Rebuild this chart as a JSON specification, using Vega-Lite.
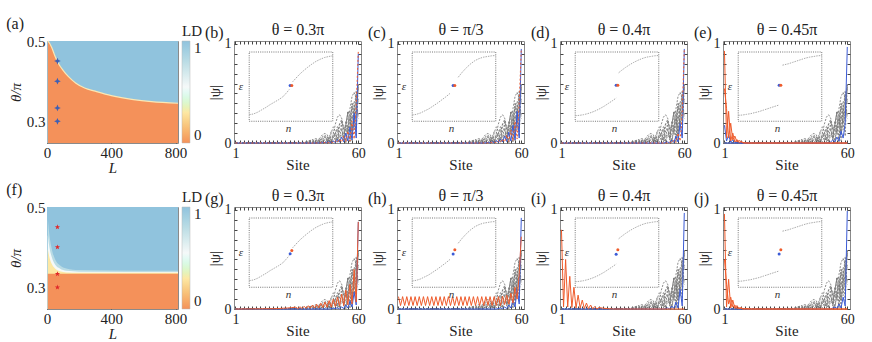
{
"$schema": "https://vega.github.io/schema/vega-lite/v6.json",
"padding": {"left": 5, "top": 15, "right": 2, "bottom": 2},
"datasets": {
"gray": [
{"c":1,"s":60,"v":0.27},{"c":1,"s":59,"v":0.447},{"c":1,"s":58,"v":0.512},{"c":1,"s":57,"v":0.47},{"c":1,"s":56,"v":0.346},{"c":1,"s":55,"v":0.174},{"c":1,"s":54,"v":0.003},{"c":1,"s":53,"v":0.153},{"c":1,"s":52,"v":0.251},{"c":1,"s":51,"v":0.286},{"c":1,"s":50,"v":0.262},{"c":1,"s":49,"v":0.192},{"c":1,"s":48,"v":0.095},{"c":1,"s":47,"v":0.004},{"c":1,"s":46,"v":0.05},{"c":1,"s":45,"v":0.085},{"c":1,"s":44,"v":0.096},{"c":1,"s":43,"v":0.088},{"c":1,"s":42,"v":0.064},{"c":1,"s":41,"v":0.03},{"c":1,"s":40,"v":0.002},{"c":1,"s":39,"v":0.025},{"c":1,"s":38,"v":0.035},{"c":1,"s":34,"v":0.004},{"c":1,"s":1,"v":0},
{"c":2,"s":60,"v":0.43},{"c":2,"s":59,"v":0.529},{"c":2,"s":58,"v":0.316},{"c":2,"s":57,"v":0.024},{"c":2,"s":56,"v":0.276},{"c":2,"s":55,"v":0.32},{"c":2,"s":54,"v":0.179},{"c":2,"s":53,"v":0.029},{"c":2,"s":52,"v":0.175},{"c":2,"s":51,"v":0.193},{"c":2,"s":50,"v":0.101},{"c":2,"s":49,"v":0.026},{"c":2,"s":48,"v":0.111},{"c":2,"s":47,"v":0.116},{"c":2,"s":46,"v":0.056},{"c":2,"s":45,"v":0.021},{"c":2,"s":44,"v":0.07},{"c":2,"s":43,"v":0.069},{"c":2,"s":42,"v":0.031},{"c":2,"s":41,"v":0.016},{"c":2,"s":40,"v":0.044},{"c":2,"s":39,"v":0.041},{"c":2,"s":38,"v":0.017},{"c":2,"s":34,"v":0.005},{"c":2,"s":1,"v":0},
{"c":3,"s":60,"v":0.566},{"c":3,"s":59,"v":0.391},{"c":3,"s":58,"v":0.135},{"c":3,"s":57,"v":0.374},{"c":3,"s":56,"v":0.162},{"c":3,"s":55,"v":0.156},{"c":3,"s":54,"v":0.223},{"c":3,"s":53,"v":0.043},{"c":3,"s":52,"v":0.131},{"c":3,"s":51,"v":0.121},{"c":3,"s":50,"v":0.008},{"c":3,"s":49,"v":0.093},{"c":3,"s":48,"v":0.059},{"c":3,"s":47,"v":0.027},{"c":3,"s":46,"v":0.06},{"c":3,"s":45,"v":0.022},{"c":3,"s":44,"v":0.027},{"c":3,"s":43,"v":0.035},{"c":3,"s":42,"v":0.005},{"c":3,"s":41,"v":0.022},{"c":3,"s":40,"v":0.018},{"c":3,"s":39,"v":0.002},{"c":3,"s":38,"v":0.016},{"c":3,"s":34,"v":0.003},{"c":3,"s":1,"v":0},
{"c":4,"s":60,"v":0.597},{"c":4,"s":59,"v":0.069},{"c":4,"s":58,"v":0.392},{"c":4,"s":57,"v":0.092},{"c":4,"s":56,"v":0.252},{"c":4,"s":55,"v":0.091},{"c":4,"s":54,"v":0.158},{"c":4,"s":53,"v":0.079},{"c":4,"s":52,"v":0.097},{"c":4,"s":51,"v":0.064},{"c":4,"s":50,"v":0.057},{"c":4,"s":49,"v":0.05},{"c":4,"s":48,"v":0.033},{"c":4,"s":47,"v":0.037},{"c":4,"s":46,"v":0.018},{"c":4,"s":45,"v":0.027},{"c":4,"s":44,"v":0.009},{"c":4,"s":43,"v":0.019},{"c":4,"s":42,"v":0.004},{"c":4,"s":41,"v":0.013},{"c":4,"s":40,"v":0.001},{"c":4,"s":39,"v":0.009},{"c":4,"s":38,"v":0.005},{"c":4,"s":34,"v":0.002},{"c":4,"s":1,"v":0},
{"c":5,"s":60,"v":0.568},{"c":5,"s":59,"v":0.286},{"c":5,"s":58,"v":0.201},{"c":5,"s":57,"v":0.274},{"c":5,"s":56,"v":0.017},{"c":5,"s":55,"v":0.159},{"c":5,"s":54,"v":0.089},{"c":5,"s":53,"v":0.051},{"c":5,"s":52,"v":0.08},{"c":5,"s":51,"v":0.009},{"c":5,"s":50,"v":0.043},{"c":5,"s":49,"v":0.028},{"c":5,"s":48,"v":0.013},{"c":5,"s":47,"v":0.023},{"c":5,"s":46,"v":0.004},{"c":5,"s":45,"v":0.012},{"c":5,"s":44,"v":0.006},{"c":5,"s":43,"v":0.003},{"c":5,"s":42,"v":0.005},{"c":5,"s":41,"v":0.001},{"c":5,"s":40,"v":0.003},{"c":5,"s":38,"v":0.001},{"c":5,"s":1,"v":0},
{"c":6,"s":60,"v":0.41},{"c":6,"s":59,"v":0.494},{"c":6,"s":58,"v":0.26},{"c":6,"s":57,"v":0.091},{"c":6,"s":56,"v":0.322},{"c":6,"s":55,"v":0.314},{"c":6,"s":54,"v":0.115},{"c":6,"s":53,"v":0.12},{"c":6,"s":52,"v":0.237},{"c":6,"s":51,"v":0.19},{"c":6,"s":50,"v":0.024},{"c":6,"s":49,"v":0.115},{"c":6,"s":48,"v":0.164},{"c":6,"s":47,"v":0.105},{"c":6,"s":46,"v":0.008},{"c":6,"s":45,"v":0.07},{"c":6,"s":44,"v":0.075},{"c":6,"s":43,"v":0.04},{"c":6,"s":42,"v":0.01},{"c":6,"s":41,"v":0.04},{"c":6,"s":40,"v":0.035},{"c":6,"s":39,"v":0.012},{"c":6,"s":38,"v":0.008},{"c":6,"s":34,"v":0.003},{"c":6,"s":1,"v":0},
{"c":7,"s":60,"v":0.248},{"c":7,"s":59,"v":0.388},{"c":7,"s":58,"v":0.422},{"c":7,"s":57,"v":0.37},{"c":7,"s":56,"v":0.263},{"c":7,"s":55,"v":0.134},{"c":7,"s":54,"v":0.01},{"c":7,"s":53,"v":0.088},{"c":7,"s":52,"v":0.133},{"c":7,"s":51,"v":0.154},{"c":7,"s":50,"v":0.136},{"c":7,"s":49,"v":0.101},{"c":7,"s":48,"v":0.054},{"c":7,"s":47,"v":0.005},{"c":7,"s":46,"v":0.027},{"c":7,"s":45,"v":0.047},{"c":7,"s":44,"v":0.055},{"c":7,"s":43,"v":0.05},{"c":7,"s":42,"v":0.038},{"c":7,"s":41,"v":0.021},{"c":7,"s":40,"v":0.004},{"c":7,"s":39,"v":0.015},{"c":7,"s":38,"v":0.029},{"c":7,"s":34,"v":0.006},{"c":7,"s":1,"v":0},
{"c":8,"s":60,"v":0.588},{"c":8,"s":59,"v":0.327},{"c":8,"s":58,"v":0.276},{"c":8,"s":57,"v":0.409},{"c":8,"s":56,"v":0.012},{"c":8,"s":55,"v":0.311},{"c":8,"s":54,"v":0.183},{"c":8,"s":53,"v":0.141},{"c":8,"s":52,"v":0.221},{"c":8,"s":51,"v":0.013},{"c":8,"s":50,"v":0.165},{"c":8,"s":49,"v":0.102},{"c":8,"s":48,"v":0.071},{"c":8,"s":47,"v":0.072},{"c":8,"s":46,"v":0.007},{"c":8,"s":45,"v":0.052},{"c":8,"s":44,"v":0.034},{"c":8,"s":43,"v":0.022},{"c":8,"s":42,"v":0.038},{"c":8,"s":41,"v":0.004},{"c":8,"s":40,"v":0.027},{"c":8,"s":39,"v":0.019},{"c":8,"s":38,"v":0.011},{"c":8,"s":34,"v":0.003},{"c":8,"s":1,"v":0}
],
"psi": [
{"p":"b","k":"b","s":1,"v":0},{"p":"b","k":"b","s":40,"v":0},{"p":"b","k":"b","s":44,"v":0.005},{"p":"b","k":"b","s":46,"v":0.01},{"p":"b","k":"b","s":47,"v":0.003},{"p":"b","k":"b","s":48,"v":0.02},{"p":"b","k":"b","s":49,"v":0.005},{"p":"b","k":"b","s":50,"v":0.035},{"p":"b","k":"b","s":51,"v":0.008},{"p":"b","k":"b","s":52,"v":0.06},{"p":"b","k":"b","s":53,"v":0.012},{"p":"b","k":"b","s":54,"v":0.1},{"p":"b","k":"b","s":55,"v":0.02},{"p":"b","k":"b","s":56,"v":0.16},{"p":"b","k":"b","s":57,"v":0.03},{"p":"b","k":"b","s":58,"v":0.3},{"p":"b","k":"b","s":59,"v":0.05},{"p":"b","k":"b","s":60,"v":0.9},
{"p":"b","k":"r","s":1,"v":0},{"p":"b","k":"r","s":40,"v":0},{"p":"b","k":"r","s":45,"v":0.005},{"p":"b","k":"r","s":46,"v":0.002},{"p":"b","k":"r","s":47,"v":0.01},{"p":"b","k":"r","s":48,"v":0.003},{"p":"b","k":"r","s":49,"v":0.02},{"p":"b","k":"r","s":50,"v":0.005},{"p":"b","k":"r","s":51,"v":0.04},{"p":"b","k":"r","s":52,"v":0.008},{"p":"b","k":"r","s":53,"v":0.07},{"p":"b","k":"r","s":54,"v":0.012},{"p":"b","k":"r","s":55,"v":0.12},{"p":"b","k":"r","s":56,"v":0.02},{"p":"b","k":"r","s":57,"v":0.22},{"p":"b","k":"r","s":58,"v":0.04},{"p":"b","k":"r","s":59,"v":0.38},{"p":"b","k":"r","s":60,"v":0.92},
{"p":"c","k":"b","s":1,"v":0},{"p":"c","k":"b","s":42,"v":0},{"p":"c","k":"b","s":44,"v":0.005},{"p":"c","k":"b","s":45,"v":0.002},{"p":"c","k":"b","s":46,"v":0.012},{"p":"c","k":"b","s":47,"v":0.003},{"p":"c","k":"b","s":48,"v":0.025},{"p":"c","k":"b","s":49,"v":0.006},{"p":"c","k":"b","s":50,"v":0.04},{"p":"c","k":"b","s":51,"v":0.01},{"p":"c","k":"b","s":52,"v":0.07},{"p":"c","k":"b","s":53,"v":0.015},{"p":"c","k":"b","s":54,"v":0.11},{"p":"c","k":"b","s":55,"v":0.02},{"p":"c","k":"b","s":56,"v":0.18},{"p":"c","k":"b","s":57,"v":0.03},{"p":"c","k":"b","s":58,"v":0.32},{"p":"c","k":"b","s":59,"v":0.05},{"p":"c","k":"b","s":60,"v":0.95},
{"p":"c","k":"r","s":1,"v":0},{"p":"c","k":"r","s":44,"v":0},{"p":"c","k":"r","s":47,"v":0.01},{"p":"c","k":"r","s":48,"v":0.003},{"p":"c","k":"r","s":49,"v":0.02},{"p":"c","k":"r","s":50,"v":0.005},{"p":"c","k":"r","s":51,"v":0.04},{"p":"c","k":"r","s":52,"v":0.01},{"p":"c","k":"r","s":53,"v":0.08},{"p":"c","k":"r","s":54,"v":0.015},{"p":"c","k":"r","s":55,"v":0.13},{"p":"c","k":"r","s":56,"v":0.02},{"p":"c","k":"r","s":57,"v":0.22},{"p":"c","k":"r","s":58,"v":0.04},{"p":"c","k":"r","s":59,"v":0.4},{"p":"c","k":"r","s":60,"v":0.95},
{"p":"d","k":"b","s":1,"v":0},{"p":"d","k":"b","s":50,"v":0},{"p":"d","k":"b","s":52,"v":0.01},{"p":"d","k":"b","s":53,"v":0.002},{"p":"d","k":"b","s":54,"v":0.03},{"p":"d","k":"b","s":55,"v":0.005},{"p":"d","k":"b","s":56,"v":0.07},{"p":"d","k":"b","s":57,"v":0.01},{"p":"d","k":"b","s":58,"v":0.2},{"p":"d","k":"b","s":59,"v":0.05},{"p":"d","k":"b","s":60,"v":0.95},
{"p":"d","k":"r","s":1,"v":0},{"p":"d","k":"r","s":52,"v":0},{"p":"d","k":"r","s":53,"v":0.01},{"p":"d","k":"r","s":54,"v":0.002},{"p":"d","k":"r","s":55,"v":0.03},{"p":"d","k":"r","s":56,"v":0.005},{"p":"d","k":"r","s":57,"v":0.1},{"p":"d","k":"r","s":58,"v":0.02},{"p":"d","k":"r","s":59,"v":0.3},{"p":"d","k":"r","s":60,"v":0.95},
{"p":"e","k":"r","s":1,"v":0.93},{"p":"e","k":"r","s":2,"v":0.05},{"p":"e","k":"r","s":3,"v":0.32},{"p":"e","k":"r","s":4,"v":0.02},{"p":"e","k":"r","s":5,"v":0.1},{"p":"e","k":"r","s":6,"v":0.01},{"p":"e","k":"r","s":7,"v":0.035},{"p":"e","k":"r","s":8,"v":0.005},{"p":"e","k":"r","s":9,"v":0.012},{"p":"e","k":"r","s":10,"v":0},{"p":"e","k":"r","s":60,"v":0},
{"p":"e","k":"r2","s":1,"v":0.55},{"p":"e","k":"r2","s":2,"v":0.35},{"p":"e","k":"r2","s":3,"v":0.05},{"p":"e","k":"r2","s":4,"v":0.2},{"p":"e","k":"r2","s":5,"v":0.03},{"p":"e","k":"r2","s":6,"v":0.07},{"p":"e","k":"r2","s":7,"v":0.01},{"p":"e","k":"r2","s":8,"v":0.025},{"p":"e","k":"r2","s":10,"v":0.005},{"p":"e","k":"r2","s":12,"v":0},{"p":"e","k":"r2","s":60,"v":0},
{"p":"e","k":"b","s":1,"v":0},{"p":"e","k":"b","s":50,"v":0},{"p":"e","k":"b","s":52,"v":0.01},{"p":"e","k":"b","s":53,"v":0.03},{"p":"e","k":"b","s":54,"v":0.01},{"p":"e","k":"b","s":55,"v":0.06},{"p":"e","k":"b","s":56,"v":0.02},{"p":"e","k":"b","s":57,"v":0.12},{"p":"e","k":"b","s":58,"v":0.05},{"p":"e","k":"b","s":59,"v":0.2},{"p":"e","k":"b","s":60,"v":0.97},
{"p":"e","k":"b2","s":1,"v":0.18},{"p":"e","k":"b2","s":2,"v":0.02},{"p":"e","k":"b2","s":3,"v":0.08},{"p":"e","k":"b2","s":4,"v":0.01},{"p":"e","k":"b2","s":5,"v":0.03},{"p":"e","k":"b2","s":6,"v":0.005},{"p":"e","k":"b2","s":7,"v":0.01},{"p":"e","k":"b2","s":9,"v":0},{"p":"e","k":"b2","s":60,"v":0},
{"p":"g","k":"r","s":1,"v":0},{"p":"g","k":"r","s":20,"v":0.003},{"p":"g","k":"r","s":22,"v":0.005},{"p":"g","k":"r","s":24,"v":0.008},{"p":"g","k":"r","s":26,"v":0.01},{"p":"g","k":"r","s":28,"v":0.014},{"p":"g","k":"r","s":30,"v":0.018},{"p":"g","k":"r","s":31,"v":0.004},{"p":"g","k":"r","s":32,"v":0.022},{"p":"g","k":"r","s":33,"v":0.005},{"p":"g","k":"r","s":34,"v":0.027},{"p":"g","k":"r","s":35,"v":0.006},{"p":"g","k":"r","s":36,"v":0.033},{"p":"g","k":"r","s":37,"v":0.008},{"p":"g","k":"r","s":38,"v":0.04},{"p":"g","k":"r","s":39,"v":0.01},{"p":"g","k":"r","s":40,"v":0.048},{"p":"g","k":"r","s":41,"v":0.012},{"p":"g","k":"r","s":42,"v":0.058},{"p":"g","k":"r","s":43,"v":0.015},{"p":"g","k":"r","s":44,"v":0.07},{"p":"g","k":"r","s":45,"v":0.018},{"p":"g","k":"r","s":46,"v":0.085},{"p":"g","k":"r","s":47,"v":0.02},{"p":"g","k":"r","s":48,"v":0.1},{"p":"g","k":"r","s":49,"v":0.025},{"p":"g","k":"r","s":50,"v":0.12},{"p":"g","k":"r","s":51,"v":0.03},{"p":"g","k":"r","s":52,"v":0.15},{"p":"g","k":"r","s":53,"v":0.035},{"p":"g","k":"r","s":54,"v":0.19},{"p":"g","k":"r","s":55,"v":0.04},{"p":"g","k":"r","s":56,"v":0.25},{"p":"g","k":"r","s":57,"v":0.05},{"p":"g","k":"r","s":58,"v":0.4},{"p":"g","k":"r","s":59,"v":0.07},{"p":"g","k":"r","s":60,"v":0.88},
{"p":"g","k":"b","s":1,"v":0},{"p":"g","k":"b","s":46,"v":0},{"p":"g","k":"b","s":48,"v":0.005},{"p":"g","k":"b","s":50,"v":0.01},{"p":"g","k":"b","s":51,"v":0.003},{"p":"g","k":"b","s":52,"v":0.02},{"p":"g","k":"b","s":53,"v":0.005},{"p":"g","k":"b","s":54,"v":0.04},{"p":"g","k":"b","s":55,"v":0.01},{"p":"g","k":"b","s":56,"v":0.08},{"p":"g","k":"b","s":57,"v":0.02},{"p":"g","k":"b","s":58,"v":0.17},{"p":"g","k":"b","s":59,"v":0.04},{"p":"g","k":"b","s":60,"v":0.88},
{"p":"h","k":"r","s":1,"v":0.125},{"p":"h","k":"r","s":2,"v":0.035},{"p":"h","k":"r","s":3,"v":0.125},{"p":"h","k":"r","s":4,"v":0.035},{"p":"h","k":"r","s":5,"v":0.125},{"p":"h","k":"r","s":6,"v":0.035},{"p":"h","k":"r","s":7,"v":0.125},{"p":"h","k":"r","s":8,"v":0.035},{"p":"h","k":"r","s":9,"v":0.125},{"p":"h","k":"r","s":10,"v":0.035},{"p":"h","k":"r","s":11,"v":0.125},{"p":"h","k":"r","s":12,"v":0.035},{"p":"h","k":"r","s":13,"v":0.125},{"p":"h","k":"r","s":14,"v":0.035},{"p":"h","k":"r","s":15,"v":0.125},{"p":"h","k":"r","s":16,"v":0.035},{"p":"h","k":"r","s":17,"v":0.125},{"p":"h","k":"r","s":18,"v":0.035},{"p":"h","k":"r","s":19,"v":0.125},{"p":"h","k":"r","s":20,"v":0.035},{"p":"h","k":"r","s":21,"v":0.125},{"p":"h","k":"r","s":22,"v":0.035},{"p":"h","k":"r","s":23,"v":0.125},{"p":"h","k":"r","s":24,"v":0.035},{"p":"h","k":"r","s":25,"v":0.125},{"p":"h","k":"r","s":26,"v":0.035},{"p":"h","k":"r","s":27,"v":0.125},{"p":"h","k":"r","s":28,"v":0.035},{"p":"h","k":"r","s":29,"v":0.125},{"p":"h","k":"r","s":30,"v":0.035},{"p":"h","k":"r","s":31,"v":0.125},{"p":"h","k":"r","s":32,"v":0.035},{"p":"h","k":"r","s":33,"v":0.125},{"p":"h","k":"r","s":34,"v":0.035},{"p":"h","k":"r","s":35,"v":0.125},{"p":"h","k":"r","s":36,"v":0.035},{"p":"h","k":"r","s":37,"v":0.125},{"p":"h","k":"r","s":38,"v":0.035},{"p":"h","k":"r","s":39,"v":0.125},{"p":"h","k":"r","s":40,"v":0.035},{"p":"h","k":"r","s":41,"v":0.125},{"p":"h","k":"r","s":42,"v":0.035},{"p":"h","k":"r","s":43,"v":0.125},{"p":"h","k":"r","s":44,"v":0.035},{"p":"h","k":"r","s":45,"v":0.125},{"p":"h","k":"r","s":46,"v":0.035},{"p":"h","k":"r","s":47,"v":0.125},{"p":"h","k":"r","s":48,"v":0.035},{"p":"h","k":"r","s":49,"v":0.125},{"p":"h","k":"r","s":50,"v":0.035},{"p":"h","k":"r","s":51,"v":0.13},{"p":"h","k":"r","s":52,"v":0.045},{"p":"h","k":"r","s":53,"v":0.14},{"p":"h","k":"r","s":54,"v":0.05},{"p":"h","k":"r","s":55,"v":0.16},{"p":"h","k":"r","s":56,"v":0.06},{"p":"h","k":"r","s":57,"v":0.22},{"p":"h","k":"r","s":58,"v":0.1},{"p":"h","k":"r","s":59,"v":0.35},{"p":"h","k":"r","s":60,"v":0.73},
{"p":"h","k":"b","s":1,"v":0},{"p":"h","k":"b","s":48,"v":0},{"p":"h","k":"b","s":50,"v":0.01},{"p":"h","k":"b","s":51,"v":0.003},{"p":"h","k":"b","s":52,"v":0.02},{"p":"h","k":"b","s":53,"v":0.005},{"p":"h","k":"b","s":54,"v":0.04},{"p":"h","k":"b","s":55,"v":0.01},{"p":"h","k":"b","s":56,"v":0.09},{"p":"h","k":"b","s":57,"v":0.02},{"p":"h","k":"b","s":58,"v":0.2},{"p":"h","k":"b","s":59,"v":0.05},{"p":"h","k":"b","s":60,"v":0.92},
{"p":"i","k":"r","s":1,"v":0.8},{"p":"i","k":"r","s":2,"v":0.02},{"p":"i","k":"r","s":3,"v":0.5},{"p":"i","k":"r","s":4,"v":0.02},{"p":"i","k":"r","s":5,"v":0.33},{"p":"i","k":"r","s":6,"v":0.015},{"p":"i","k":"r","s":7,"v":0.22},{"p":"i","k":"r","s":8,"v":0.01},{"p":"i","k":"r","s":9,"v":0.14},{"p":"i","k":"r","s":10,"v":0.01},{"p":"i","k":"r","s":11,"v":0.09},{"p":"i","k":"r","s":12,"v":0.005},{"p":"i","k":"r","s":13,"v":0.06},{"p":"i","k":"r","s":14,"v":0.003},{"p":"i","k":"r","s":15,"v":0.04},{"p":"i","k":"r","s":16,"v":0.002},{"p":"i","k":"r","s":17,"v":0.025},{"p":"i","k":"r","s":18,"v":0.001},{"p":"i","k":"r","s":19,"v":0.015},{"p":"i","k":"r","s":21,"v":0.008},{"p":"i","k":"r","s":23,"v":0.004},{"p":"i","k":"r","s":26,"v":0},{"p":"i","k":"r","s":60,"v":0},
{"p":"i","k":"b","s":1,"v":0},{"p":"i","k":"b","s":50,"v":0},{"p":"i","k":"b","s":52,"v":0.01},{"p":"i","k":"b","s":53,"v":0.002},{"p":"i","k":"b","s":54,"v":0.03},{"p":"i","k":"b","s":55,"v":0.005},{"p":"i","k":"b","s":56,"v":0.07},{"p":"i","k":"b","s":57,"v":0.01},{"p":"i","k":"b","s":58,"v":0.2},{"p":"i","k":"b","s":59,"v":0.03},{"p":"i","k":"b","s":60,"v":0.97},
{"p":"j","k":"r","s":1,"v":0.96},{"p":"j","k":"r","s":2,"v":0.02},{"p":"j","k":"r","s":3,"v":0.3},{"p":"j","k":"r","s":4,"v":0.01},{"p":"j","k":"r","s":5,"v":0.09},{"p":"j","k":"r","s":6,"v":0.005},{"p":"j","k":"r","s":7,"v":0.035},{"p":"j","k":"r","s":8,"v":0.003},{"p":"j","k":"r","s":9,"v":0.015},{"p":"j","k":"r","s":10,"v":0.001},{"p":"j","k":"r","s":11,"v":0.005},{"p":"j","k":"r","s":14,"v":0},{"p":"j","k":"r","s":60,"v":0},
{"p":"j","k":"r2","s":1,"v":0.5},{"p":"j","k":"r2","s":2,"v":0.25},{"p":"j","k":"r2","s":3,"v":0.05},{"p":"j","k":"r2","s":4,"v":0.12},{"p":"j","k":"r2","s":5,"v":0.02},{"p":"j","k":"r2","s":6,"v":0.04},{"p":"j","k":"r2","s":7,"v":0.005},{"p":"j","k":"r2","s":8,"v":0.012},{"p":"j","k":"r2","s":10,"v":0},{"p":"j","k":"r2","s":60,"v":0},
{"p":"j","k":"b","s":1,"v":0},{"p":"j","k":"b","s":52,"v":0},{"p":"j","k":"b","s":54,"v":0.02},{"p":"j","k":"b","s":55,"v":0.005},{"p":"j","k":"b","s":56,"v":0.05},{"p":"j","k":"b","s":57,"v":0.01},{"p":"j","k":"b","s":58,"v":0.12},{"p":"j","k":"b","s":59,"v":0.03},{"p":"j","k":"b","s":60,"v":0.99}
],
"inset": [
{"t":1,"g":1,"n":0,"e":-0.81},{"t":1,"g":1,"n":0.05,"e":-0.79},{"t":1,"g":1,"n":0.1,"e":-0.74},{"t":1,"g":1,"n":0.15,"e":-0.67},{"t":1,"g":1,"n":0.2,"e":-0.6},{"t":1,"g":1,"n":0.25,"e":-0.52},{"t":1,"g":1,"n":0.3,"e":-0.45},{"t":1,"g":1,"n":0.35,"e":-0.38},{"t":1,"g":1,"n":0.4,"e":-0.3},{"t":1,"g":1,"n":0.45,"e":-0.17},{"t":1,"g":1,"n":0.48,"e":-0.08},
{"t":1,"g":2,"n":0.52,"e":0.14},{"t":1,"g":2,"n":0.55,"e":0.22},{"t":1,"g":2,"n":0.6,"e":0.35},{"t":1,"g":2,"n":0.65,"e":0.46},{"t":1,"g":2,"n":0.7,"e":0.56},{"t":1,"g":2,"n":0.75,"e":0.65},{"t":1,"g":2,"n":0.8,"e":0.73},{"t":1,"g":2,"n":0.85,"e":0.79},{"t":1,"g":2,"n":0.9,"e":0.84},{"t":1,"g":2,"n":0.95,"e":0.87},{"t":1,"g":2,"n":1,"e":0.89},
{"t":2,"g":1,"n":0,"e":-0.82},{"t":2,"g":1,"n":0.05,"e":-0.8},{"t":2,"g":1,"n":0.1,"e":-0.76},{"t":2,"g":1,"n":0.15,"e":-0.7},{"t":2,"g":1,"n":0.2,"e":-0.64},{"t":2,"g":1,"n":0.25,"e":-0.56},{"t":2,"g":1,"n":0.3,"e":-0.48},{"t":2,"g":1,"n":0.35,"e":-0.39},{"t":2,"g":1,"n":0.4,"e":-0.3},{"t":2,"g":1,"n":0.46,"e":-0.18},
{"t":2,"g":2,"n":0.55,"e":0.27},{"t":2,"g":2,"n":0.6,"e":0.42},{"t":2,"g":2,"n":0.65,"e":0.55},{"t":2,"g":2,"n":0.7,"e":0.66},{"t":2,"g":2,"n":0.75,"e":0.75},{"t":2,"g":2,"n":0.8,"e":0.81},{"t":2,"g":2,"n":0.85,"e":0.85},{"t":2,"g":2,"n":0.9,"e":0.87},{"t":2,"g":2,"n":0.95,"e":0.89},{"t":2,"g":2,"n":1,"e":0.9},
{"t":3,"g":1,"n":0,"e":-0.84},{"t":3,"g":1,"n":0.05,"e":-0.83},{"t":3,"g":1,"n":0.1,"e":-0.81},{"t":3,"g":1,"n":0.15,"e":-0.78},{"t":3,"g":1,"n":0.2,"e":-0.74},{"t":3,"g":1,"n":0.25,"e":-0.69},{"t":3,"g":1,"n":0.3,"e":-0.63},{"t":3,"g":1,"n":0.35,"e":-0.56},{"t":3,"g":1,"n":0.4,"e":-0.48},{"t":3,"g":1,"n":0.45,"e":-0.4},{"t":3,"g":1,"n":0.49,"e":-0.33},
{"t":3,"g":2,"n":0.52,"e":0.4},{"t":3,"g":2,"n":0.55,"e":0.46},{"t":3,"g":2,"n":0.6,"e":0.55},{"t":3,"g":2,"n":0.65,"e":0.63},{"t":3,"g":2,"n":0.7,"e":0.7},{"t":3,"g":2,"n":0.75,"e":0.76},{"t":3,"g":2,"n":0.8,"e":0.81},{"t":3,"g":2,"n":0.85,"e":0.85},{"t":3,"g":2,"n":0.9,"e":0.87},{"t":3,"g":2,"n":0.95,"e":0.89},{"t":3,"g":2,"n":1,"e":0.9},
{"t":4,"g":1,"n":0,"e":-0.83},{"t":4,"g":1,"n":0.05,"e":-0.82},{"t":4,"g":1,"n":0.1,"e":-0.8},{"t":4,"g":1,"n":0.15,"e":-0.78},{"t":4,"g":1,"n":0.2,"e":-0.75},{"t":4,"g":1,"n":0.25,"e":-0.72},{"t":4,"g":1,"n":0.3,"e":-0.68},{"t":4,"g":1,"n":0.35,"e":-0.64},{"t":4,"g":1,"n":0.4,"e":-0.6},{"t":4,"g":1,"n":0.45,"e":-0.56},{"t":4,"g":1,"n":0.49,"e":-0.53},
{"t":4,"g":2,"n":0.53,"e":0.62},{"t":4,"g":2,"n":0.6,"e":0.66},{"t":4,"g":2,"n":0.65,"e":0.7},{"t":4,"g":2,"n":0.7,"e":0.74},{"t":4,"g":2,"n":0.75,"e":0.78},{"t":4,"g":2,"n":0.8,"e":0.82},{"t":4,"g":2,"n":0.85,"e":0.85},{"t":4,"g":2,"n":0.9,"e":0.87},{"t":4,"g":2,"n":0.95,"e":0.89},{"t":4,"g":2,"n":1,"e":0.9}
],
"inpt": [
{"p":"b","k":"b","n":0.49,"e":0.03},{"p":"b","k":"r","n":0.51,"e":0.03},
{"p":"c","k":"b","n":0.49,"e":0.035},{"p":"c","k":"r","n":0.51,"e":0.035},
{"p":"d","k":"b","n":0.49,"e":0.04},{"p":"d","k":"r","n":0.51,"e":0.04},
{"p":"e","k":"b","n":0.49,"e":0.04},{"p":"e","k":"r","n":0.51,"e":0.04},
{"p":"g","k":"b","n":0.49,"e":-0.03},{"p":"g","k":"r","n":0.51,"e":0.06},
{"p":"h","k":"b","n":0.49,"e":-0.04},{"p":"h","k":"r","n":0.51,"e":0.08},
{"p":"i","k":"b","n":0.49,"e":-0.05},{"p":"i","k":"r","n":0.51,"e":0.08},
{"p":"j","k":"b","n":0.49,"e":-0.04},{"p":"j","k":"r","n":0.51,"e":0.08}
],
"bndA": [
{"L":5,"th":0.5},{"L":15,"th":0.495},{"L":30,"th":0.483},{"L":50,"th":0.462},{"L":71,"th":0.444},{"L":100,"th":0.427},{"L":132,"th":0.412},{"L":180,"th":0.395},{"L":234,"th":0.383},{"L":300,"th":0.375},{"L":400,"th":0.364},{"L":538,"th":0.354},{"L":650,"th":0.349},{"L":815,"th":0.345}
],
"bndF": [
{"c":"lb","L":5,"th":0.47},{"c":"lb","L":15,"th":0.43},{"c":"lb","L":30,"th":0.395},{"c":"lb","L":50,"th":0.37},{"c":"lb","L":80,"th":0.355},{"c":"lb","L":120,"th":0.347},{"c":"lb","L":200,"th":0.343},{"c":"lb","L":400,"th":0.342},{"c":"lb","L":815,"th":0.341},
{"c":"w","L":5,"th":0.43},{"c":"w","L":15,"th":0.4},{"c":"w","L":30,"th":0.375},{"c":"w","L":50,"th":0.357},{"c":"w","L":80,"th":0.347},{"c":"w","L":120,"th":0.341},{"c":"w","L":200,"th":0.339},{"c":"w","L":815,"th":0.338},
{"c":"y","L":5,"th":0.395},{"c":"y","L":15,"th":0.375},{"c":"y","L":30,"th":0.358},{"c":"y","L":50,"th":0.347},{"c":"y","L":80,"th":0.34},{"c":"y","L":120,"th":0.337},{"c":"y","L":200,"th":0.336},{"c":"y","L":815,"th":0.336},
{"c":"o","L":5,"th":0.334},{"c":"o","L":815,"th":0.334}
],
"mk": [{"L":65,"th":0.45},{"L":65,"th":0.4},{"L":65,"th":0.3333},{"L":65,"th":0.3}]
},
"vconcat": [
{"hconcat": [
{"width": 131, "height": 102, "title": {"text": "(a)", "offset": 0, "dy": 8, "dx": -2},
 "layer": [
  {"data": {"values": [{}]}, "mark": {"type": "rect"},
   "encoding": {"x": {"datum": 0, "type": "quantitative", "scale": {"domain": [0, 815], "nice": false, "zero": false}, "axis": {"title": "L", "titleFontStyle": "italic", "values": [0, 200, 400, 600, 800], "format": "d", "labelFontSize": 15, "titleFontSize": 15, "tickSize": -2, "labelPadding": 4, "labelOverlap": false, "labelSeparation": -12, "labelBound": false, "titlePadding": 0}},
    "x2": {"datum": 815},
    "y": {"datum": 0.246, "type": "quantitative", "scale": {"domain": [0.246, 0.5], "nice": false, "zero": false}, "axis": {"title": "θ/π", "titleFontStyle": "italic", "values": [0.3, 0.5], "format": ".1f", "labelFontSize": 15, "titleFontSize": 15, "tickSize": -2, "labelPadding": 4, "titlePadding": 3}},
    "y2": {"datum": 0.5},
    "color": {"datum": 1, "type": "quantitative", "scale": {"domain": [0, 0.3, 0.55, 1], "range": ["#f4915a", "#fde8a4", "#f5f9f9", "#90c3dd"]}, "legend": {"type": "gradient", "direction": "vertical", "orient": "none", "legendX": 135, "legendY": -17, "title": "LD", "values": [0, 1], "format": "d", "gradientLength": 102, "gradientThickness": 8, "labelFontSize": 15, "titleFontSize": 15, "titleFontWeight": "normal", "gradientStrokeColor": "#bbb", "gradientStrokeWidth": 0.5, "titlePadding": 2, "labelOffset": 4}}}},
  {"data": {"name": "bndA"}, "mark": {"type": "area", "interpolate": "monotone"},
   "encoding": {"x": {"field": "L", "type": "quantitative", "scale": {"domain": [0, 815], "nice": false, "zero": false}, "axis": {"title": "L", "titleFontStyle": "italic", "values": [0, 200, 400, 600, 800], "format": "d", "labelFontSize": 15, "titleFontSize": 15, "tickSize": -2, "labelPadding": 4, "labelOverlap": false, "labelSeparation": -12, "labelBound": false, "titlePadding": 0}}, "y": {"field": "th", "type": "quantitative", "scale": {"domain": [0.246, 0.5], "nice": false, "zero": false}, "axis": {"title": "θ/π", "titleFontStyle": "italic", "values": [0.3, 0.5], "format": ".1f", "labelFontSize": 15, "titleFontSize": 15, "tickSize": -2, "labelPadding": 4, "titlePadding": 3}}, "y2": {"datum": 0.246}, "color": {"datum": 0, "type": "quantitative"}}},
  {"data": {"name": "bndA"}, "mark": {"type": "line", "interpolate": "monotone", "strokeWidth": 1.2, "color": "#fbe7b4"},
   "encoding": {"x": {"field": "L", "type": "quantitative"}, "y": {"field": "th", "type": "quantitative"}}},
  {"mark": {"type": "rule", "color": "#dddddd", "strokeWidth": 1}, "encoding": {"x": {"datum": 65, "type": "quantitative"}}},
  {"data": {"name": "mk"}, "mark": {"type": "point", "shape": "M0,-1L0.3,-0.3L1,0L0.3,0.3L0,1L-0.3,0.3L-1,0L-0.3,-0.3Z", "filled": true, "color": "#3d5fb5", "size": 45, "opacity": 1},
   "encoding": {"x": {"field": "L", "type": "quantitative"}, "y": {"field": "th", "type": "quantitative"}}},
  {"mark": {"type": "text", "text": "TDR", "fontSize": 14, "color": "#222"}, "encoding": {"x": {"datum": 407, "type": "quantitative"}, "y": {"datum": 0.422, "type": "quantitative"}}},
  {"mark": {"type": "text", "text": "NHDR", "fontSize": 14, "color": "#222"}, "encoding": {"x": {"datum": 393, "type": "quantitative"}, "y": {"datum": 0.299, "type": "quantitative"}}}
 ]},
{"width": 127, "height": 102, "title": {"text": "(b)", "offset": -19, "dx": -2},
 "layer": [
  {"layer": [
   {"data": {"name": "gray"}, "mark": {"type": "line", "color": "#767676", "strokeWidth": 0.85, "strokeDash": [2, 1.5]},
    "encoding": {"x": {"field": "s", "type": "quantitative", "scale": {"domain": [0.3, 61.3], "nice": false, "zero": false}, "axis": {"orient": "bottom", "values": [1,3,5,7,9,11,13,15,17,19,21,23,25,27,29,31,33,35,37,39,41,43,45,47,49,51,53,55,57,59,60], "format": "d", "labelExpr": "datum.value == 1 || datum.value == 60 ? datum.label : ''", "title": "Site", "titlePadding": -3}},
     "y": {"field": "v", "type": "quantitative", "scale": {"domain": [0, 1.03], "nice": false, "zero": false}, "axis": {"orient": "left", "values": [0,0.1,0.2,0.3,0.4,0.5,0.6,0.7,0.8,0.9,1], "format": "~g", "labelExpr": "datum.value == 0 || datum.value == 1 ? datum.label : ''", "title": "|ψ|"}},
     "detail": {"field": "c"}}},
   {"data": {"name": "psi"}, "transform": [{"filter": "datum.p == 'b' && (datum.k == 'b' || datum.k == 'b2')"}], "mark": {"type": "line", "color": "#3b5bd6", "strokeWidth": 1},
    "encoding": {"x": {"field": "s", "type": "quantitative", "scale": {"domain": [0.3, 61.3], "nice": false, "zero": false}, "axis": null}, "y": {"field": "v", "type": "quantitative", "scale": {"domain": [0, 1.03], "nice": false, "zero": false}, "axis": null}, "detail": {"field": "k"}}},
   {"data": {"name": "psi"}, "transform": [{"filter": "datum.p == 'b' && (datum.k == 'r' || datum.k == 'r2')"}], "mark": {"type": "line", "color": "#ef5b2b", "strokeWidth": 1, "strokeDash": [2, 2]},
    "encoding": {"x": {"field": "s", "type": "quantitative", "scale": {"domain": [0.3, 61.3], "nice": false, "zero": false}, "axis": {"orient": "top", "values": [1,3,5,7,9,11,13,15,17,19,21,23,25,27,29,31,33,35,37,39,41,43,45,47,49,51,53,55,57,59,60], "labels": false, "title": "θ = 0.3π", "titleFontSize": 16, "titlePadding": 3}},
     "y": {"field": "v", "type": "quantitative", "scale": {"domain": [0, 1.03], "nice": false, "zero": false}, "axis": {"orient": "right", "values": [0,0.1,0.2,0.3,0.4,0.5,0.6,0.7,0.8,0.9,1], "labels": false, "title": null}},
     "detail": {"field": "k"}}}
  ], "resolve": {"axis": {"x": "independent", "y": "independent"}}},
  {"layer": [
   {"data": {"values": [{}]}, "mark": {"type": "rect", "filled": false, "stroke": "#666", "strokeWidth": 0.9, "strokeDash": [1, 1.2]},
    "encoding": {"x": {"datum": 0, "type": "quantitative", "scale": {"domain": [-0.182, 1.338], "nice": false, "zero": false}, "axis": null}, "x2": {"datum": 1}, "y": {"datum": -1, "type": "quantitative", "scale": {"domain": [-1.628, 1.318], "nice": false, "zero": false}, "axis": null}, "y2": {"datum": 1}}},
   {"data": {"name": "inset"}, "transform": [{"filter": "datum.t == 1"}], "mark": {"type": "line", "color": "#a0a0a0", "strokeWidth": 0.9, "strokeDash": [1.5, 1]},
    "encoding": {"x": {"field": "n", "type": "quantitative", "scale": {"domain": [-0.182, 1.338], "nice": false, "zero": false}, "axis": null}, "y": {"field": "e", "type": "quantitative", "scale": {"domain": [-1.628, 1.318], "nice": false, "zero": false}, "axis": null}, "detail": {"field": "g"}}},
   {"data": {"name": "inpt"}, "transform": [{"filter": "datum.p == 'b' && datum.k == 'b'"}], "mark": {"type": "circle", "color": "#3b5bd6", "size": 9, "opacity": 1},
    "encoding": {"x": {"field": "n", "type": "quantitative", "scale": {"domain": [-0.182, 1.338], "nice": false, "zero": false}, "axis": null}, "y": {"field": "e", "type": "quantitative", "scale": {"domain": [-1.628, 1.318], "nice": false, "zero": false}, "axis": null}}},
   {"data": {"name": "inpt"}, "transform": [{"filter": "datum.p == 'b' && datum.k == 'r'"}], "mark": {"type": "circle", "color": "#ef5b2b", "size": 9, "opacity": 1},
    "encoding": {"x": {"field": "n", "type": "quantitative", "scale": {"domain": [-0.182, 1.338], "nice": false, "zero": false}, "axis": null}, "y": {"field": "e", "type": "quantitative", "scale": {"domain": [-1.628, 1.318], "nice": false, "zero": false}, "axis": null}}},
   {"data": {"values": [{}]}, "mark": {"type": "text", "text": "ε", "fontStyle": "italic", "fontSize": 11, "color": "#333"},
    "encoding": {"x": {"datum": -0.1, "type": "quantitative", "scale": {"domain": [-0.182, 1.338], "nice": false, "zero": false}, "axis": null}, "y": {"datum": 0, "type": "quantitative", "scale": {"domain": [-1.628, 1.318], "nice": false, "zero": false}, "axis": null}}},
   {"data": {"values": [{}]}, "mark": {"type": "text", "text": "n", "fontStyle": "italic", "fontSize": 11, "color": "#333"},
    "encoding": {"x": {"datum": 0.47, "type": "quantitative", "scale": {"domain": [-0.182, 1.338], "nice": false, "zero": false}, "axis": null}, "y": {"datum": -1.22, "type": "quantitative", "scale": {"domain": [-1.628, 1.318], "nice": false, "zero": false}, "axis": null}}}
  ]}
 ],
 "resolve": {"scale": {"x": "independent", "y": "independent"}}},
{"width": 127, "height": 102, "title": {"text": "(c)", "offset": -19, "dx": -2},
 "layer": [
  {"layer": [
   {"data": {"name": "gray"}, "mark": {"type": "line", "color": "#767676", "strokeWidth": 0.85, "strokeDash": [2, 1.5]},
    "encoding": {"x": {"field": "s", "type": "quantitative", "scale": {"domain": [0.3, 61.3], "nice": false, "zero": false}, "axis": {"orient": "bottom", "values": [1,3,5,7,9,11,13,15,17,19,21,23,25,27,29,31,33,35,37,39,41,43,45,47,49,51,53,55,57,59,60], "format": "d", "labelExpr": "datum.value == 1 || datum.value == 60 ? datum.label : ''", "title": "Site", "titlePadding": -3}},
     "y": {"field": "v", "type": "quantitative", "scale": {"domain": [0, 1.03], "nice": false, "zero": false}, "axis": {"orient": "left", "values": [0,0.1,0.2,0.3,0.4,0.5,0.6,0.7,0.8,0.9,1], "format": "~g", "labelExpr": "datum.value == 0 || datum.value == 1 ? datum.label : ''", "title": "|ψ|"}},
     "detail": {"field": "c"}}},
   {"data": {"name": "psi"}, "transform": [{"filter": "datum.p == 'c' && (datum.k == 'b' || datum.k == 'b2')"}], "mark": {"type": "line", "color": "#3b5bd6", "strokeWidth": 1},
    "encoding": {"x": {"field": "s", "type": "quantitative", "scale": {"domain": [0.3, 61.3], "nice": false, "zero": false}, "axis": null}, "y": {"field": "v", "type": "quantitative", "scale": {"domain": [0, 1.03], "nice": false, "zero": false}, "axis": null}, "detail": {"field": "k"}}},
   {"data": {"name": "psi"}, "transform": [{"filter": "datum.p == 'c' && (datum.k == 'r' || datum.k == 'r2')"}], "mark": {"type": "line", "color": "#ef5b2b", "strokeWidth": 1, "strokeDash": [2, 2]},
    "encoding": {"x": {"field": "s", "type": "quantitative", "scale": {"domain": [0.3, 61.3], "nice": false, "zero": false}, "axis": {"orient": "top", "values": [1,3,5,7,9,11,13,15,17,19,21,23,25,27,29,31,33,35,37,39,41,43,45,47,49,51,53,55,57,59,60], "labels": false, "title": "θ = π/3", "titleFontSize": 16, "titlePadding": 3}},
     "y": {"field": "v", "type": "quantitative", "scale": {"domain": [0, 1.03], "nice": false, "zero": false}, "axis": {"orient": "right", "values": [0,0.1,0.2,0.3,0.4,0.5,0.6,0.7,0.8,0.9,1], "labels": false, "title": null}},
     "detail": {"field": "k"}}}
  ], "resolve": {"axis": {"x": "independent", "y": "independent"}}},
  {"layer": [
   {"data": {"values": [{}]}, "mark": {"type": "rect", "filled": false, "stroke": "#666", "strokeWidth": 0.9, "strokeDash": [1, 1.2]},
    "encoding": {"x": {"datum": 0, "type": "quantitative", "scale": {"domain": [-0.182, 1.338], "nice": false, "zero": false}, "axis": null}, "x2": {"datum": 1}, "y": {"datum": -1, "type": "quantitative", "scale": {"domain": [-1.628, 1.318], "nice": false, "zero": false}, "axis": null}, "y2": {"datum": 1}}},
   {"data": {"name": "inset"}, "transform": [{"filter": "datum.t == 2"}], "mark": {"type": "line", "color": "#a0a0a0", "strokeWidth": 0.9, "strokeDash": [1.5, 1]},
    "encoding": {"x": {"field": "n", "type": "quantitative", "scale": {"domain": [-0.182, 1.338], "nice": false, "zero": false}, "axis": null}, "y": {"field": "e", "type": "quantitative", "scale": {"domain": [-1.628, 1.318], "nice": false, "zero": false}, "axis": null}, "detail": {"field": "g"}}},
   {"data": {"name": "inpt"}, "transform": [{"filter": "datum.p == 'c' && datum.k == 'b'"}], "mark": {"type": "circle", "color": "#3b5bd6", "size": 9, "opacity": 1},
    "encoding": {"x": {"field": "n", "type": "quantitative", "scale": {"domain": [-0.182, 1.338], "nice": false, "zero": false}, "axis": null}, "y": {"field": "e", "type": "quantitative", "scale": {"domain": [-1.628, 1.318], "nice": false, "zero": false}, "axis": null}}},
   {"data": {"name": "inpt"}, "transform": [{"filter": "datum.p == 'c' && datum.k == 'r'"}], "mark": {"type": "circle", "color": "#ef5b2b", "size": 9, "opacity": 1},
    "encoding": {"x": {"field": "n", "type": "quantitative", "scale": {"domain": [-0.182, 1.338], "nice": false, "zero": false}, "axis": null}, "y": {"field": "e", "type": "quantitative", "scale": {"domain": [-1.628, 1.318], "nice": false, "zero": false}, "axis": null}}},
   {"data": {"values": [{}]}, "mark": {"type": "text", "text": "ε", "fontStyle": "italic", "fontSize": 11, "color": "#333"},
    "encoding": {"x": {"datum": -0.1, "type": "quantitative", "scale": {"domain": [-0.182, 1.338], "nice": false, "zero": false}, "axis": null}, "y": {"datum": 0, "type": "quantitative", "scale": {"domain": [-1.628, 1.318], "nice": false, "zero": false}, "axis": null}}},
   {"data": {"values": [{}]}, "mark": {"type": "text", "text": "n", "fontStyle": "italic", "fontSize": 11, "color": "#333"},
    "encoding": {"x": {"datum": 0.47, "type": "quantitative", "scale": {"domain": [-0.182, 1.338], "nice": false, "zero": false}, "axis": null}, "y": {"datum": -1.22, "type": "quantitative", "scale": {"domain": [-1.628, 1.318], "nice": false, "zero": false}, "axis": null}}}
  ]}
 ],
 "resolve": {"scale": {"x": "independent", "y": "independent"}}},
{"width": 127, "height": 102, "title": {"text": "(d)", "offset": -19, "dx": -2},
 "layer": [
  {"layer": [
   {"data": {"name": "gray"}, "mark": {"type": "line", "color": "#767676", "strokeWidth": 0.85, "strokeDash": [2, 1.5]},
    "encoding": {"x": {"field": "s", "type": "quantitative", "scale": {"domain": [0.3, 61.3], "nice": false, "zero": false}, "axis": {"orient": "bottom", "values": [1,3,5,7,9,11,13,15,17,19,21,23,25,27,29,31,33,35,37,39,41,43,45,47,49,51,53,55,57,59,60], "format": "d", "labelExpr": "datum.value == 1 || datum.value == 60 ? datum.label : ''", "title": "Site", "titlePadding": -3}},
     "y": {"field": "v", "type": "quantitative", "scale": {"domain": [0, 1.03], "nice": false, "zero": false}, "axis": {"orient": "left", "values": [0,0.1,0.2,0.3,0.4,0.5,0.6,0.7,0.8,0.9,1], "format": "~g", "labelExpr": "datum.value == 0 || datum.value == 1 ? datum.label : ''", "title": "|ψ|"}},
     "detail": {"field": "c"}}},
   {"data": {"name": "psi"}, "transform": [{"filter": "datum.p == 'd' && (datum.k == 'b' || datum.k == 'b2')"}], "mark": {"type": "line", "color": "#3b5bd6", "strokeWidth": 1},
    "encoding": {"x": {"field": "s", "type": "quantitative", "scale": {"domain": [0.3, 61.3], "nice": false, "zero": false}, "axis": null}, "y": {"field": "v", "type": "quantitative", "scale": {"domain": [0, 1.03], "nice": false, "zero": false}, "axis": null}, "detail": {"field": "k"}}},
   {"data": {"name": "psi"}, "transform": [{"filter": "datum.p == 'd' && (datum.k == 'r' || datum.k == 'r2')"}], "mark": {"type": "line", "color": "#ef5b2b", "strokeWidth": 1, "strokeDash": [2, 2]},
    "encoding": {"x": {"field": "s", "type": "quantitative", "scale": {"domain": [0.3, 61.3], "nice": false, "zero": false}, "axis": {"orient": "top", "values": [1,3,5,7,9,11,13,15,17,19,21,23,25,27,29,31,33,35,37,39,41,43,45,47,49,51,53,55,57,59,60], "labels": false, "title": "θ = 0.4π", "titleFontSize": 16, "titlePadding": 3}},
     "y": {"field": "v", "type": "quantitative", "scale": {"domain": [0, 1.03], "nice": false, "zero": false}, "axis": {"orient": "right", "values": [0,0.1,0.2,0.3,0.4,0.5,0.6,0.7,0.8,0.9,1], "labels": false, "title": null}},
     "detail": {"field": "k"}}}
  ], "resolve": {"axis": {"x": "independent", "y": "independent"}}},
  {"layer": [
   {"data": {"values": [{}]}, "mark": {"type": "rect", "filled": false, "stroke": "#666", "strokeWidth": 0.9, "strokeDash": [1, 1.2]},
    "encoding": {"x": {"datum": 0, "type": "quantitative", "scale": {"domain": [-0.182, 1.338], "nice": false, "zero": false}, "axis": null}, "x2": {"datum": 1}, "y": {"datum": -1, "type": "quantitative", "scale": {"domain": [-1.628, 1.318], "nice": false, "zero": false}, "axis": null}, "y2": {"datum": 1}}},
   {"data": {"name": "inset"}, "transform": [{"filter": "datum.t == 3"}], "mark": {"type": "line", "color": "#a0a0a0", "strokeWidth": 0.9, "strokeDash": [1.5, 1]},
    "encoding": {"x": {"field": "n", "type": "quantitative", "scale": {"domain": [-0.182, 1.338], "nice": false, "zero": false}, "axis": null}, "y": {"field": "e", "type": "quantitative", "scale": {"domain": [-1.628, 1.318], "nice": false, "zero": false}, "axis": null}, "detail": {"field": "g"}}},
   {"data": {"name": "inpt"}, "transform": [{"filter": "datum.p == 'd' && datum.k == 'b'"}], "mark": {"type": "circle", "color": "#3b5bd6", "size": 9, "opacity": 1},
    "encoding": {"x": {"field": "n", "type": "quantitative", "scale": {"domain": [-0.182, 1.338], "nice": false, "zero": false}, "axis": null}, "y": {"field": "e", "type": "quantitative", "scale": {"domain": [-1.628, 1.318], "nice": false, "zero": false}, "axis": null}}},
   {"data": {"name": "inpt"}, "transform": [{"filter": "datum.p == 'd' && datum.k == 'r'"}], "mark": {"type": "circle", "color": "#ef5b2b", "size": 9, "opacity": 1},
    "encoding": {"x": {"field": "n", "type": "quantitative", "scale": {"domain": [-0.182, 1.338], "nice": false, "zero": false}, "axis": null}, "y": {"field": "e", "type": "quantitative", "scale": {"domain": [-1.628, 1.318], "nice": false, "zero": false}, "axis": null}}},
   {"data": {"values": [{}]}, "mark": {"type": "text", "text": "ε", "fontStyle": "italic", "fontSize": 11, "color": "#333"},
    "encoding": {"x": {"datum": -0.1, "type": "quantitative", "scale": {"domain": [-0.182, 1.338], "nice": false, "zero": false}, "axis": null}, "y": {"datum": 0, "type": "quantitative", "scale": {"domain": [-1.628, 1.318], "nice": false, "zero": false}, "axis": null}}},
   {"data": {"values": [{}]}, "mark": {"type": "text", "text": "n", "fontStyle": "italic", "fontSize": 11, "color": "#333"},
    "encoding": {"x": {"datum": 0.47, "type": "quantitative", "scale": {"domain": [-0.182, 1.338], "nice": false, "zero": false}, "axis": null}, "y": {"datum": -1.22, "type": "quantitative", "scale": {"domain": [-1.628, 1.318], "nice": false, "zero": false}, "axis": null}}}
  ]}
 ],
 "resolve": {"scale": {"x": "independent", "y": "independent"}}},
{"width": 127, "height": 102, "title": {"text": "(e)", "offset": -19, "dx": -2},
 "layer": [
  {"layer": [
   {"data": {"name": "gray"}, "mark": {"type": "line", "color": "#767676", "strokeWidth": 0.85, "strokeDash": [2, 1.5]},
    "encoding": {"x": {"field": "s", "type": "quantitative", "scale": {"domain": [0.3, 61.3], "nice": false, "zero": false}, "axis": {"orient": "bottom", "values": [1,3,5,7,9,11,13,15,17,19,21,23,25,27,29,31,33,35,37,39,41,43,45,47,49,51,53,55,57,59,60], "format": "d", "labelExpr": "datum.value == 1 || datum.value == 60 ? datum.label : ''", "title": "Site", "titlePadding": -3}},
     "y": {"field": "v", "type": "quantitative", "scale": {"domain": [0, 1.03], "nice": false, "zero": false}, "axis": {"orient": "left", "values": [0,0.1,0.2,0.3,0.4,0.5,0.6,0.7,0.8,0.9,1], "format": "~g", "labelExpr": "datum.value == 0 || datum.value == 1 ? datum.label : ''", "title": "|ψ|"}},
     "detail": {"field": "c"}}},
   {"data": {"name": "psi"}, "transform": [{"filter": "datum.p == 'e' && (datum.k == 'b' || datum.k == 'b2')"}], "mark": {"type": "line", "color": "#3b5bd6", "strokeWidth": 1},
    "encoding": {"x": {"field": "s", "type": "quantitative", "scale": {"domain": [0.3, 61.3], "nice": false, "zero": false}, "axis": null}, "y": {"field": "v", "type": "quantitative", "scale": {"domain": [0, 1.03], "nice": false, "zero": false}, "axis": null}, "detail": {"field": "k"}}},
   {"data": {"name": "psi"}, "transform": [{"filter": "datum.p == 'e' && (datum.k == 'r' || datum.k == 'r2')"}], "mark": {"type": "line", "color": "#ef5b2b", "strokeWidth": 1},
    "encoding": {"x": {"field": "s", "type": "quantitative", "scale": {"domain": [0.3, 61.3], "nice": false, "zero": false}, "axis": {"orient": "top", "values": [1,3,5,7,9,11,13,15,17,19,21,23,25,27,29,31,33,35,37,39,41,43,45,47,49,51,53,55,57,59,60], "labels": false, "title": "θ = 0.45π", "titleFontSize": 16, "titlePadding": 3}},
     "y": {"field": "v", "type": "quantitative", "scale": {"domain": [0, 1.03], "nice": false, "zero": false}, "axis": {"orient": "right", "values": [0,0.1,0.2,0.3,0.4,0.5,0.6,0.7,0.8,0.9,1], "labels": false, "title": null}},
     "detail": {"field": "k"}}}
  ], "resolve": {"axis": {"x": "independent", "y": "independent"}}},
  {"layer": [
   {"data": {"values": [{}]}, "mark": {"type": "rect", "filled": false, "stroke": "#666", "strokeWidth": 0.9, "strokeDash": [1, 1.2]},
    "encoding": {"x": {"datum": 0, "type": "quantitative", "scale": {"domain": [-0.182, 1.338], "nice": false, "zero": false}, "axis": null}, "x2": {"datum": 1}, "y": {"datum": -1, "type": "quantitative", "scale": {"domain": [-1.628, 1.318], "nice": false, "zero": false}, "axis": null}, "y2": {"datum": 1}}},
   {"data": {"name": "inset"}, "transform": [{"filter": "datum.t == 4"}], "mark": {"type": "line", "color": "#a0a0a0", "strokeWidth": 0.9, "strokeDash": [1.5, 1]},
    "encoding": {"x": {"field": "n", "type": "quantitative", "scale": {"domain": [-0.182, 1.338], "nice": false, "zero": false}, "axis": null}, "y": {"field": "e", "type": "quantitative", "scale": {"domain": [-1.628, 1.318], "nice": false, "zero": false}, "axis": null}, "detail": {"field": "g"}}},
   {"data": {"name": "inpt"}, "transform": [{"filter": "datum.p == 'e' && datum.k == 'b'"}], "mark": {"type": "circle", "color": "#3b5bd6", "size": 9, "opacity": 1},
    "encoding": {"x": {"field": "n", "type": "quantitative", "scale": {"domain": [-0.182, 1.338], "nice": false, "zero": false}, "axis": null}, "y": {"field": "e", "type": "quantitative", "scale": {"domain": [-1.628, 1.318], "nice": false, "zero": false}, "axis": null}}},
   {"data": {"name": "inpt"}, "transform": [{"filter": "datum.p == 'e' && datum.k == 'r'"}], "mark": {"type": "circle", "color": "#ef5b2b", "size": 9, "opacity": 1},
    "encoding": {"x": {"field": "n", "type": "quantitative", "scale": {"domain": [-0.182, 1.338], "nice": false, "zero": false}, "axis": null}, "y": {"field": "e", "type": "quantitative", "scale": {"domain": [-1.628, 1.318], "nice": false, "zero": false}, "axis": null}}},
   {"data": {"values": [{}]}, "mark": {"type": "text", "text": "ε", "fontStyle": "italic", "fontSize": 11, "color": "#333"},
    "encoding": {"x": {"datum": -0.1, "type": "quantitative", "scale": {"domain": [-0.182, 1.338], "nice": false, "zero": false}, "axis": null}, "y": {"datum": 0, "type": "quantitative", "scale": {"domain": [-1.628, 1.318], "nice": false, "zero": false}, "axis": null}}},
   {"data": {"values": [{}]}, "mark": {"type": "text", "text": "n", "fontStyle": "italic", "fontSize": 11, "color": "#333"},
    "encoding": {"x": {"datum": 0.47, "type": "quantitative", "scale": {"domain": [-0.182, 1.338], "nice": false, "zero": false}, "axis": null}, "y": {"datum": -1.22, "type": "quantitative", "scale": {"domain": [-1.628, 1.318], "nice": false, "zero": false}, "axis": null}}}
  ]}
 ],
 "resolve": {"scale": {"x": "independent", "y": "independent"}}}
], "spacing": 1, "resolve": {"scale": {"color": "independent", "x": "independent", "y": "independent"}, "legend": {"color": "independent"}}},
{"hconcat": [
{"width": 131, "height": 102, "title": {"text": "(f)", "offset": 0, "dy": 8, "dx": -2},
 "layer": [
  {"data": {"values": [{}]}, "mark": {"type": "rect"},
   "encoding": {"x": {"datum": 0, "type": "quantitative", "scale": {"domain": [0, 815], "nice": false, "zero": false}, "axis": {"title": "L", "titleFontStyle": "italic", "values": [0, 200, 400, 600, 800], "format": "d", "labelFontSize": 15, "titleFontSize": 15, "tickSize": -2, "labelPadding": 4, "labelOverlap": false, "labelSeparation": -12, "labelBound": false, "titlePadding": 0}},
    "x2": {"datum": 815},
    "y": {"datum": 0.246, "type": "quantitative", "scale": {"domain": [0.246, 0.5], "nice": false, "zero": false}, "axis": {"title": "θ/π", "titleFontStyle": "italic", "values": [0.3, 0.5], "format": ".1f", "labelFontSize": 15, "titleFontSize": 15, "tickSize": -2, "labelPadding": 4, "titlePadding": 3}},
    "y2": {"datum": 0.5},
    "color": {"datum": 1, "type": "quantitative", "scale": {"domain": [0, 0.3, 0.55, 1], "range": ["#f4915a", "#fde8a4", "#f5f9f9", "#90c3dd"]}, "legend": {"type": "gradient", "direction": "vertical", "orient": "none", "legendX": 135, "legendY": -17, "title": "LD", "values": [0, 1], "format": "d", "gradientLength": 102, "gradientThickness": 8, "labelFontSize": 15, "titleFontSize": 15, "titleFontWeight": "normal", "gradientStrokeColor": "#bbb", "gradientStrokeWidth": 0.5, "titlePadding": 2, "labelOffset": 4}}}},
  {"data": {"name": "bndF"}, "transform": [{"filter": "datum.c == 'lb'"}], "mark": {"type": "area", "interpolate": "monotone"},
   "encoding": {"x": {"field": "L", "type": "quantitative", "scale": {"domain": [0, 815], "nice": false, "zero": false}, "axis": {"title": "L", "titleFontStyle": "italic", "values": [0, 200, 400, 600, 800], "format": "d", "labelFontSize": 15, "titleFontSize": 15, "tickSize": -2, "labelPadding": 4, "labelOverlap": false, "labelSeparation": -12, "labelBound": false, "titlePadding": 0}}, "y": {"field": "th", "type": "quantitative", "scale": {"domain": [0.246, 0.5], "nice": false, "zero": false}, "axis": {"title": "θ/π", "titleFontStyle": "italic", "values": [0.3, 0.5], "format": ".1f", "labelFontSize": 15, "titleFontSize": 15, "tickSize": -2, "labelPadding": 4, "titlePadding": 3}}, "y2": {"datum": 0.246}, "color": {"datum": 0.8, "type": "quantitative"}}},
  {"data": {"name": "bndF"}, "transform": [{"filter": "datum.c == 'w'"}], "mark": {"type": "area", "interpolate": "monotone"},
   "encoding": {"x": {"field": "L", "type": "quantitative"}, "y": {"field": "th", "type": "quantitative"}, "y2": {"datum": 0.246}, "color": {"datum": 0.55, "type": "quantitative"}}},
  {"data": {"name": "bndF"}, "transform": [{"filter": "datum.c == 'y'"}], "mark": {"type": "area", "interpolate": "monotone"},
   "encoding": {"x": {"field": "L", "type": "quantitative"}, "y": {"field": "th", "type": "quantitative"}, "y2": {"datum": 0.246}, "color": {"datum": 0.3, "type": "quantitative"}}},
  {"data": {"name": "bndF"}, "transform": [{"filter": "datum.c == 'o'"}], "mark": {"type": "area"},
   "encoding": {"x": {"field": "L", "type": "quantitative"}, "y": {"field": "th", "type": "quantitative"}, "y2": {"datum": 0.246}, "color": {"datum": 0, "type": "quantitative"}}},
  {"mark": {"type": "rule", "color": "#dddddd", "strokeWidth": 1}, "encoding": {"x": {"datum": 65, "type": "quantitative"}}},
  {"data": {"name": "mk"}, "mark": {"type": "point", "shape": "M0,-1L0.235,-0.324L0.951,-0.309L0.38,0.124L0.588,0.809L0,0.4L-0.588,0.809L-0.38,0.124L-0.951,-0.309L-0.235,-0.324Z", "filled": true, "color": "#e0282a", "size": 30, "opacity": 1},
   "encoding": {"x": {"field": "L", "type": "quantitative"}, "y": {"field": "th", "type": "quantitative"}}},
  {"mark": {"type": "text", "text": "TDR", "fontSize": 14, "color": "#222"}, "encoding": {"x": {"datum": 411, "type": "quantitative"}, "y": {"datum": 0.404, "type": "quantitative"}}},
  {"mark": {"type": "text", "text": "NHDR", "fontSize": 14, "color": "#222"}, "encoding": {"x": {"datum": 407, "type": "quantitative"}, "y": {"datum": 0.289, "type": "quantitative"}}}
 ]},
{"width": 127, "height": 102, "title": {"text": "(g)", "offset": -19, "dx": -2},
 "layer": [
  {"layer": [
   {"data": {"name": "gray"}, "mark": {"type": "line", "color": "#767676", "strokeWidth": 0.85, "strokeDash": [2, 1.5]},
    "encoding": {"x": {"field": "s", "type": "quantitative", "scale": {"domain": [0.3, 61.3], "nice": false, "zero": false}, "axis": {"orient": "bottom", "values": [1,3,5,7,9,11,13,15,17,19,21,23,25,27,29,31,33,35,37,39,41,43,45,47,49,51,53,55,57,59,60], "format": "d", "labelExpr": "datum.value == 1 || datum.value == 60 ? datum.label : ''", "title": "Site", "titlePadding": -3}},
     "y": {"field": "v", "type": "quantitative", "scale": {"domain": [0, 1.03], "nice": false, "zero": false}, "axis": {"orient": "left", "values": [0,0.1,0.2,0.3,0.4,0.5,0.6,0.7,0.8,0.9,1], "format": "~g", "labelExpr": "datum.value == 0 || datum.value == 1 ? datum.label : ''", "title": "|ψ|"}},
     "detail": {"field": "c"}}},
   {"data": {"name": "psi"}, "transform": [{"filter": "datum.p == 'g' && (datum.k == 'b' || datum.k == 'b2')"}], "mark": {"type": "line", "color": "#3b5bd6", "strokeWidth": 1},
    "encoding": {"x": {"field": "s", "type": "quantitative", "scale": {"domain": [0.3, 61.3], "nice": false, "zero": false}, "axis": null}, "y": {"field": "v", "type": "quantitative", "scale": {"domain": [0, 1.03], "nice": false, "zero": false}, "axis": null}, "detail": {"field": "k"}}},
   {"data": {"name": "psi"}, "transform": [{"filter": "datum.p == 'g' && (datum.k == 'r' || datum.k == 'r2')"}], "mark": {"type": "line", "color": "#ef5b2b", "strokeWidth": 1},
    "encoding": {"x": {"field": "s", "type": "quantitative", "scale": {"domain": [0.3, 61.3], "nice": false, "zero": false}, "axis": {"orient": "top", "values": [1,3,5,7,9,11,13,15,17,19,21,23,25,27,29,31,33,35,37,39,41,43,45,47,49,51,53,55,57,59,60], "labels": false, "title": "θ = 0.3π", "titleFontSize": 16, "titlePadding": 3}},
     "y": {"field": "v", "type": "quantitative", "scale": {"domain": [0, 1.03], "nice": false, "zero": false}, "axis": {"orient": "right", "values": [0,0.1,0.2,0.3,0.4,0.5,0.6,0.7,0.8,0.9,1], "labels": false, "title": null}},
     "detail": {"field": "k"}}}
  ], "resolve": {"axis": {"x": "independent", "y": "independent"}}},
  {"layer": [
   {"data": {"values": [{}]}, "mark": {"type": "rect", "filled": false, "stroke": "#666", "strokeWidth": 0.9, "strokeDash": [1, 1.2]},
    "encoding": {"x": {"datum": 0, "type": "quantitative", "scale": {"domain": [-0.182, 1.338], "nice": false, "zero": false}, "axis": null}, "x2": {"datum": 1}, "y": {"datum": -1, "type": "quantitative", "scale": {"domain": [-1.628, 1.318], "nice": false, "zero": false}, "axis": null}, "y2": {"datum": 1}}},
   {"data": {"name": "inset"}, "transform": [{"filter": "datum.t == 1"}], "mark": {"type": "line", "color": "#a0a0a0", "strokeWidth": 0.9, "strokeDash": [1.5, 1]},
    "encoding": {"x": {"field": "n", "type": "quantitative", "scale": {"domain": [-0.182, 1.338], "nice": false, "zero": false}, "axis": null}, "y": {"field": "e", "type": "quantitative", "scale": {"domain": [-1.628, 1.318], "nice": false, "zero": false}, "axis": null}, "detail": {"field": "g"}}},
   {"data": {"name": "inpt"}, "transform": [{"filter": "datum.p == 'g' && datum.k == 'b'"}], "mark": {"type": "circle", "color": "#3b5bd6", "size": 9, "opacity": 1},
    "encoding": {"x": {"field": "n", "type": "quantitative", "scale": {"domain": [-0.182, 1.338], "nice": false, "zero": false}, "axis": null}, "y": {"field": "e", "type": "quantitative", "scale": {"domain": [-1.628, 1.318], "nice": false, "zero": false}, "axis": null}}},
   {"data": {"name": "inpt"}, "transform": [{"filter": "datum.p == 'g' && datum.k == 'r'"}], "mark": {"type": "circle", "color": "#ef5b2b", "size": 9, "opacity": 1},
    "encoding": {"x": {"field": "n", "type": "quantitative", "scale": {"domain": [-0.182, 1.338], "nice": false, "zero": false}, "axis": null}, "y": {"field": "e", "type": "quantitative", "scale": {"domain": [-1.628, 1.318], "nice": false, "zero": false}, "axis": null}}},
   {"data": {"values": [{}]}, "mark": {"type": "text", "text": "ε", "fontStyle": "italic", "fontSize": 11, "color": "#333"},
    "encoding": {"x": {"datum": -0.1, "type": "quantitative", "scale": {"domain": [-0.182, 1.338], "nice": false, "zero": false}, "axis": null}, "y": {"datum": 0, "type": "quantitative", "scale": {"domain": [-1.628, 1.318], "nice": false, "zero": false}, "axis": null}}},
   {"data": {"values": [{}]}, "mark": {"type": "text", "text": "n", "fontStyle": "italic", "fontSize": 11, "color": "#333"},
    "encoding": {"x": {"datum": 0.47, "type": "quantitative", "scale": {"domain": [-0.182, 1.338], "nice": false, "zero": false}, "axis": null}, "y": {"datum": -1.22, "type": "quantitative", "scale": {"domain": [-1.628, 1.318], "nice": false, "zero": false}, "axis": null}}}
  ]}
 ],
 "resolve": {"scale": {"x": "independent", "y": "independent"}}},
{"width": 127, "height": 102, "title": {"text": "(h)", "offset": -19, "dx": -2},
 "layer": [
  {"layer": [
   {"data": {"name": "gray"}, "mark": {"type": "line", "color": "#767676", "strokeWidth": 0.85, "strokeDash": [2, 1.5]},
    "encoding": {"x": {"field": "s", "type": "quantitative", "scale": {"domain": [0.3, 61.3], "nice": false, "zero": false}, "axis": {"orient": "bottom", "values": [1,3,5,7,9,11,13,15,17,19,21,23,25,27,29,31,33,35,37,39,41,43,45,47,49,51,53,55,57,59,60], "format": "d", "labelExpr": "datum.value == 1 || datum.value == 60 ? datum.label : ''", "title": "Site", "titlePadding": -3}},
     "y": {"field": "v", "type": "quantitative", "scale": {"domain": [0, 1.03], "nice": false, "zero": false}, "axis": {"orient": "left", "values": [0,0.1,0.2,0.3,0.4,0.5,0.6,0.7,0.8,0.9,1], "format": "~g", "labelExpr": "datum.value == 0 || datum.value == 1 ? datum.label : ''", "title": "|ψ|"}},
     "detail": {"field": "c"}}},
   {"data": {"name": "psi"}, "transform": [{"filter": "datum.p == 'h' && (datum.k == 'b' || datum.k == 'b2')"}], "mark": {"type": "line", "color": "#3b5bd6", "strokeWidth": 1},
    "encoding": {"x": {"field": "s", "type": "quantitative", "scale": {"domain": [0.3, 61.3], "nice": false, "zero": false}, "axis": null}, "y": {"field": "v", "type": "quantitative", "scale": {"domain": [0, 1.03], "nice": false, "zero": false}, "axis": null}, "detail": {"field": "k"}}},
   {"data": {"name": "psi"}, "transform": [{"filter": "datum.p == 'h' && (datum.k == 'r' || datum.k == 'r2')"}], "mark": {"type": "line", "color": "#ef5b2b", "strokeWidth": 1},
    "encoding": {"x": {"field": "s", "type": "quantitative", "scale": {"domain": [0.3, 61.3], "nice": false, "zero": false}, "axis": {"orient": "top", "values": [1,3,5,7,9,11,13,15,17,19,21,23,25,27,29,31,33,35,37,39,41,43,45,47,49,51,53,55,57,59,60], "labels": false, "title": "θ = π/3", "titleFontSize": 16, "titlePadding": 3}},
     "y": {"field": "v", "type": "quantitative", "scale": {"domain": [0, 1.03], "nice": false, "zero": false}, "axis": {"orient": "right", "values": [0,0.1,0.2,0.3,0.4,0.5,0.6,0.7,0.8,0.9,1], "labels": false, "title": null}},
     "detail": {"field": "k"}}}
  ], "resolve": {"axis": {"x": "independent", "y": "independent"}}},
  {"layer": [
   {"data": {"values": [{}]}, "mark": {"type": "rect", "filled": false, "stroke": "#666", "strokeWidth": 0.9, "strokeDash": [1, 1.2]},
    "encoding": {"x": {"datum": 0, "type": "quantitative", "scale": {"domain": [-0.182, 1.338], "nice": false, "zero": false}, "axis": null}, "x2": {"datum": 1}, "y": {"datum": -1, "type": "quantitative", "scale": {"domain": [-1.628, 1.318], "nice": false, "zero": false}, "axis": null}, "y2": {"datum": 1}}},
   {"data": {"name": "inset"}, "transform": [{"filter": "datum.t == 2"}], "mark": {"type": "line", "color": "#a0a0a0", "strokeWidth": 0.9, "strokeDash": [1.5, 1]},
    "encoding": {"x": {"field": "n", "type": "quantitative", "scale": {"domain": [-0.182, 1.338], "nice": false, "zero": false}, "axis": null}, "y": {"field": "e", "type": "quantitative", "scale": {"domain": [-1.628, 1.318], "nice": false, "zero": false}, "axis": null}, "detail": {"field": "g"}}},
   {"data": {"name": "inpt"}, "transform": [{"filter": "datum.p == 'h' && datum.k == 'b'"}], "mark": {"type": "circle", "color": "#3b5bd6", "size": 9, "opacity": 1},
    "encoding": {"x": {"field": "n", "type": "quantitative", "scale": {"domain": [-0.182, 1.338], "nice": false, "zero": false}, "axis": null}, "y": {"field": "e", "type": "quantitative", "scale": {"domain": [-1.628, 1.318], "nice": false, "zero": false}, "axis": null}}},
   {"data": {"name": "inpt"}, "transform": [{"filter": "datum.p == 'h' && datum.k == 'r'"}], "mark": {"type": "circle", "color": "#ef5b2b", "size": 9, "opacity": 1},
    "encoding": {"x": {"field": "n", "type": "quantitative", "scale": {"domain": [-0.182, 1.338], "nice": false, "zero": false}, "axis": null}, "y": {"field": "e", "type": "quantitative", "scale": {"domain": [-1.628, 1.318], "nice": false, "zero": false}, "axis": null}}},
   {"data": {"values": [{}]}, "mark": {"type": "text", "text": "ε", "fontStyle": "italic", "fontSize": 11, "color": "#333"},
    "encoding": {"x": {"datum": -0.1, "type": "quantitative", "scale": {"domain": [-0.182, 1.338], "nice": false, "zero": false}, "axis": null}, "y": {"datum": 0, "type": "quantitative", "scale": {"domain": [-1.628, 1.318], "nice": false, "zero": false}, "axis": null}}},
   {"data": {"values": [{}]}, "mark": {"type": "text", "text": "n", "fontStyle": "italic", "fontSize": 11, "color": "#333"},
    "encoding": {"x": {"datum": 0.47, "type": "quantitative", "scale": {"domain": [-0.182, 1.338], "nice": false, "zero": false}, "axis": null}, "y": {"datum": -1.22, "type": "quantitative", "scale": {"domain": [-1.628, 1.318], "nice": false, "zero": false}, "axis": null}}}
  ]}
 ],
 "resolve": {"scale": {"x": "independent", "y": "independent"}}},
{"width": 127, "height": 102, "title": {"text": "(i)", "offset": -19, "dx": -2},
 "layer": [
  {"layer": [
   {"data": {"name": "gray"}, "mark": {"type": "line", "color": "#767676", "strokeWidth": 0.85, "strokeDash": [2, 1.5]},
    "encoding": {"x": {"field": "s", "type": "quantitative", "scale": {"domain": [0.3, 61.3], "nice": false, "zero": false}, "axis": {"orient": "bottom", "values": [1,3,5,7,9,11,13,15,17,19,21,23,25,27,29,31,33,35,37,39,41,43,45,47,49,51,53,55,57,59,60], "format": "d", "labelExpr": "datum.value == 1 || datum.value == 60 ? datum.label : ''", "title": "Site", "titlePadding": -3}},
     "y": {"field": "v", "type": "quantitative", "scale": {"domain": [0, 1.03], "nice": false, "zero": false}, "axis": {"orient": "left", "values": [0,0.1,0.2,0.3,0.4,0.5,0.6,0.7,0.8,0.9,1], "format": "~g", "labelExpr": "datum.value == 0 || datum.value == 1 ? datum.label : ''", "title": "|ψ|"}},
     "detail": {"field": "c"}}},
   {"data": {"name": "psi"}, "transform": [{"filter": "datum.p == 'i' && (datum.k == 'b' || datum.k == 'b2')"}], "mark": {"type": "line", "color": "#3b5bd6", "strokeWidth": 1},
    "encoding": {"x": {"field": "s", "type": "quantitative", "scale": {"domain": [0.3, 61.3], "nice": false, "zero": false}, "axis": null}, "y": {"field": "v", "type": "quantitative", "scale": {"domain": [0, 1.03], "nice": false, "zero": false}, "axis": null}, "detail": {"field": "k"}}},
   {"data": {"name": "psi"}, "transform": [{"filter": "datum.p == 'i' && (datum.k == 'r' || datum.k == 'r2')"}], "mark": {"type": "line", "color": "#ef5b2b", "strokeWidth": 1},
    "encoding": {"x": {"field": "s", "type": "quantitative", "scale": {"domain": [0.3, 61.3], "nice": false, "zero": false}, "axis": {"orient": "top", "values": [1,3,5,7,9,11,13,15,17,19,21,23,25,27,29,31,33,35,37,39,41,43,45,47,49,51,53,55,57,59,60], "labels": false, "title": "θ = 0.4π", "titleFontSize": 16, "titlePadding": 3}},
     "y": {"field": "v", "type": "quantitative", "scale": {"domain": [0, 1.03], "nice": false, "zero": false}, "axis": {"orient": "right", "values": [0,0.1,0.2,0.3,0.4,0.5,0.6,0.7,0.8,0.9,1], "labels": false, "title": null}},
     "detail": {"field": "k"}}}
  ], "resolve": {"axis": {"x": "independent", "y": "independent"}}},
  {"layer": [
   {"data": {"values": [{}]}, "mark": {"type": "rect", "filled": false, "stroke": "#666", "strokeWidth": 0.9, "strokeDash": [1, 1.2]},
    "encoding": {"x": {"datum": 0, "type": "quantitative", "scale": {"domain": [-0.182, 1.338], "nice": false, "zero": false}, "axis": null}, "x2": {"datum": 1}, "y": {"datum": -1, "type": "quantitative", "scale": {"domain": [-1.628, 1.318], "nice": false, "zero": false}, "axis": null}, "y2": {"datum": 1}}},
   {"data": {"name": "inset"}, "transform": [{"filter": "datum.t == 3"}], "mark": {"type": "line", "color": "#a0a0a0", "strokeWidth": 0.9, "strokeDash": [1.5, 1]},
    "encoding": {"x": {"field": "n", "type": "quantitative", "scale": {"domain": [-0.182, 1.338], "nice": false, "zero": false}, "axis": null}, "y": {"field": "e", "type": "quantitative", "scale": {"domain": [-1.628, 1.318], "nice": false, "zero": false}, "axis": null}, "detail": {"field": "g"}}},
   {"data": {"name": "inpt"}, "transform": [{"filter": "datum.p == 'i' && datum.k == 'b'"}], "mark": {"type": "circle", "color": "#3b5bd6", "size": 9, "opacity": 1},
    "encoding": {"x": {"field": "n", "type": "quantitative", "scale": {"domain": [-0.182, 1.338], "nice": false, "zero": false}, "axis": null}, "y": {"field": "e", "type": "quantitative", "scale": {"domain": [-1.628, 1.318], "nice": false, "zero": false}, "axis": null}}},
   {"data": {"name": "inpt"}, "transform": [{"filter": "datum.p == 'i' && datum.k == 'r'"}], "mark": {"type": "circle", "color": "#ef5b2b", "size": 9, "opacity": 1},
    "encoding": {"x": {"field": "n", "type": "quantitative", "scale": {"domain": [-0.182, 1.338], "nice": false, "zero": false}, "axis": null}, "y": {"field": "e", "type": "quantitative", "scale": {"domain": [-1.628, 1.318], "nice": false, "zero": false}, "axis": null}}},
   {"data": {"values": [{}]}, "mark": {"type": "text", "text": "ε", "fontStyle": "italic", "fontSize": 11, "color": "#333"},
    "encoding": {"x": {"datum": -0.1, "type": "quantitative", "scale": {"domain": [-0.182, 1.338], "nice": false, "zero": false}, "axis": null}, "y": {"datum": 0, "type": "quantitative", "scale": {"domain": [-1.628, 1.318], "nice": false, "zero": false}, "axis": null}}},
   {"data": {"values": [{}]}, "mark": {"type": "text", "text": "n", "fontStyle": "italic", "fontSize": 11, "color": "#333"},
    "encoding": {"x": {"datum": 0.47, "type": "quantitative", "scale": {"domain": [-0.182, 1.338], "nice": false, "zero": false}, "axis": null}, "y": {"datum": -1.22, "type": "quantitative", "scale": {"domain": [-1.628, 1.318], "nice": false, "zero": false}, "axis": null}}}
  ]}
 ],
 "resolve": {"scale": {"x": "independent", "y": "independent"}}},
{"width": 127, "height": 102, "title": {"text": "(j)", "offset": -19, "dx": -2},
 "layer": [
  {"layer": [
   {"data": {"name": "gray"}, "mark": {"type": "line", "color": "#767676", "strokeWidth": 0.85, "strokeDash": [2, 1.5]},
    "encoding": {"x": {"field": "s", "type": "quantitative", "scale": {"domain": [0.3, 61.3], "nice": false, "zero": false}, "axis": {"orient": "bottom", "values": [1,3,5,7,9,11,13,15,17,19,21,23,25,27,29,31,33,35,37,39,41,43,45,47,49,51,53,55,57,59,60], "format": "d", "labelExpr": "datum.value == 1 || datum.value == 60 ? datum.label : ''", "title": "Site", "titlePadding": -3}},
     "y": {"field": "v", "type": "quantitative", "scale": {"domain": [0, 1.03], "nice": false, "zero": false}, "axis": {"orient": "left", "values": [0,0.1,0.2,0.3,0.4,0.5,0.6,0.7,0.8,0.9,1], "format": "~g", "labelExpr": "datum.value == 0 || datum.value == 1 ? datum.label : ''", "title": "|ψ|"}},
     "detail": {"field": "c"}}},
   {"data": {"name": "psi"}, "transform": [{"filter": "datum.p == 'j' && (datum.k == 'b' || datum.k == 'b2')"}], "mark": {"type": "line", "color": "#3b5bd6", "strokeWidth": 1},
    "encoding": {"x": {"field": "s", "type": "quantitative", "scale": {"domain": [0.3, 61.3], "nice": false, "zero": false}, "axis": null}, "y": {"field": "v", "type": "quantitative", "scale": {"domain": [0, 1.03], "nice": false, "zero": false}, "axis": null}, "detail": {"field": "k"}}},
   {"data": {"name": "psi"}, "transform": [{"filter": "datum.p == 'j' && (datum.k == 'r' || datum.k == 'r2')"}], "mark": {"type": "line", "color": "#ef5b2b", "strokeWidth": 1},
    "encoding": {"x": {"field": "s", "type": "quantitative", "scale": {"domain": [0.3, 61.3], "nice": false, "zero": false}, "axis": {"orient": "top", "values": [1,3,5,7,9,11,13,15,17,19,21,23,25,27,29,31,33,35,37,39,41,43,45,47,49,51,53,55,57,59,60], "labels": false, "title": "θ = 0.45π", "titleFontSize": 16, "titlePadding": 3}},
     "y": {"field": "v", "type": "quantitative", "scale": {"domain": [0, 1.03], "nice": false, "zero": false}, "axis": {"orient": "right", "values": [0,0.1,0.2,0.3,0.4,0.5,0.6,0.7,0.8,0.9,1], "labels": false, "title": null}},
     "detail": {"field": "k"}}}
  ], "resolve": {"axis": {"x": "independent", "y": "independent"}}},
  {"layer": [
   {"data": {"values": [{}]}, "mark": {"type": "rect", "filled": false, "stroke": "#666", "strokeWidth": 0.9, "strokeDash": [1, 1.2]},
    "encoding": {"x": {"datum": 0, "type": "quantitative", "scale": {"domain": [-0.182, 1.338], "nice": false, "zero": false}, "axis": null}, "x2": {"datum": 1}, "y": {"datum": -1, "type": "quantitative", "scale": {"domain": [-1.628, 1.318], "nice": false, "zero": false}, "axis": null}, "y2": {"datum": 1}}},
   {"data": {"name": "inset"}, "transform": [{"filter": "datum.t == 4"}], "mark": {"type": "line", "color": "#a0a0a0", "strokeWidth": 0.9, "strokeDash": [1.5, 1]},
    "encoding": {"x": {"field": "n", "type": "quantitative", "scale": {"domain": [-0.182, 1.338], "nice": false, "zero": false}, "axis": null}, "y": {"field": "e", "type": "quantitative", "scale": {"domain": [-1.628, 1.318], "nice": false, "zero": false}, "axis": null}, "detail": {"field": "g"}}},
   {"data": {"name": "inpt"}, "transform": [{"filter": "datum.p == 'j' && datum.k == 'b'"}], "mark": {"type": "circle", "color": "#3b5bd6", "size": 9, "opacity": 1},
    "encoding": {"x": {"field": "n", "type": "quantitative", "scale": {"domain": [-0.182, 1.338], "nice": false, "zero": false}, "axis": null}, "y": {"field": "e", "type": "quantitative", "scale": {"domain": [-1.628, 1.318], "nice": false, "zero": false}, "axis": null}}},
   {"data": {"name": "inpt"}, "transform": [{"filter": "datum.p == 'j' && datum.k == 'r'"}], "mark": {"type": "circle", "color": "#ef5b2b", "size": 9, "opacity": 1},
    "encoding": {"x": {"field": "n", "type": "quantitative", "scale": {"domain": [-0.182, 1.338], "nice": false, "zero": false}, "axis": null}, "y": {"field": "e", "type": "quantitative", "scale": {"domain": [-1.628, 1.318], "nice": false, "zero": false}, "axis": null}}},
   {"data": {"values": [{}]}, "mark": {"type": "text", "text": "ε", "fontStyle": "italic", "fontSize": 11, "color": "#333"},
    "encoding": {"x": {"datum": -0.1, "type": "quantitative", "scale": {"domain": [-0.182, 1.338], "nice": false, "zero": false}, "axis": null}, "y": {"datum": 0, "type": "quantitative", "scale": {"domain": [-1.628, 1.318], "nice": false, "zero": false}, "axis": null}}},
   {"data": {"values": [{}]}, "mark": {"type": "text", "text": "n", "fontStyle": "italic", "fontSize": 11, "color": "#333"},
    "encoding": {"x": {"datum": 0.47, "type": "quantitative", "scale": {"domain": [-0.182, 1.338], "nice": false, "zero": false}, "axis": null}, "y": {"datum": -1.22, "type": "quantitative", "scale": {"domain": [-1.628, 1.318], "nice": false, "zero": false}, "axis": null}}}
  ]}
 ],
 "resolve": {"scale": {"x": "independent", "y": "independent"}}}
], "spacing": 1, "resolve": {"scale": {"color": "independent", "x": "independent", "y": "independent"}, "legend": {"color": "independent"}}}
],
"spacing": 5,
"resolve": {"scale": {"color": "independent", "x": "independent", "y": "independent"}, "legend": {"color": "independent"}},
"config": {
 "font": "Liberation Serif",
 "view": {"stroke": "#8a8a8a", "strokeWidth": 1},
 "axis": {"labelFont": "Liberation Serif", "titleFont": "Liberation Serif", "titleFontWeight": "normal", "labelColor": "#222", "titleColor": "#222", "grid": false, "domain": false, "tickColor": "#444", "tickSize": -3, "labelPadding": 6, "labelFontSize": 14, "titleFontSize": 15, "titlePadding": 2, "labelFlush": false, "labelOverlap": false},
 "axisX": {"labelOverlap": false},
 "axisQuantitative": {"labelOverlap": false},
 "legend": {"labelFont": "Liberation Serif", "titleFont": "Liberation Serif", "labelColor": "#222", "titleColor": "#222"},
 "text": {"font": "Liberation Serif"},
 "title": {"font": "Liberation Serif", "fontWeight": "normal", "fontSize": 16, "anchor": "start", "frame": "bounds", "color": "#222"}
}
}
